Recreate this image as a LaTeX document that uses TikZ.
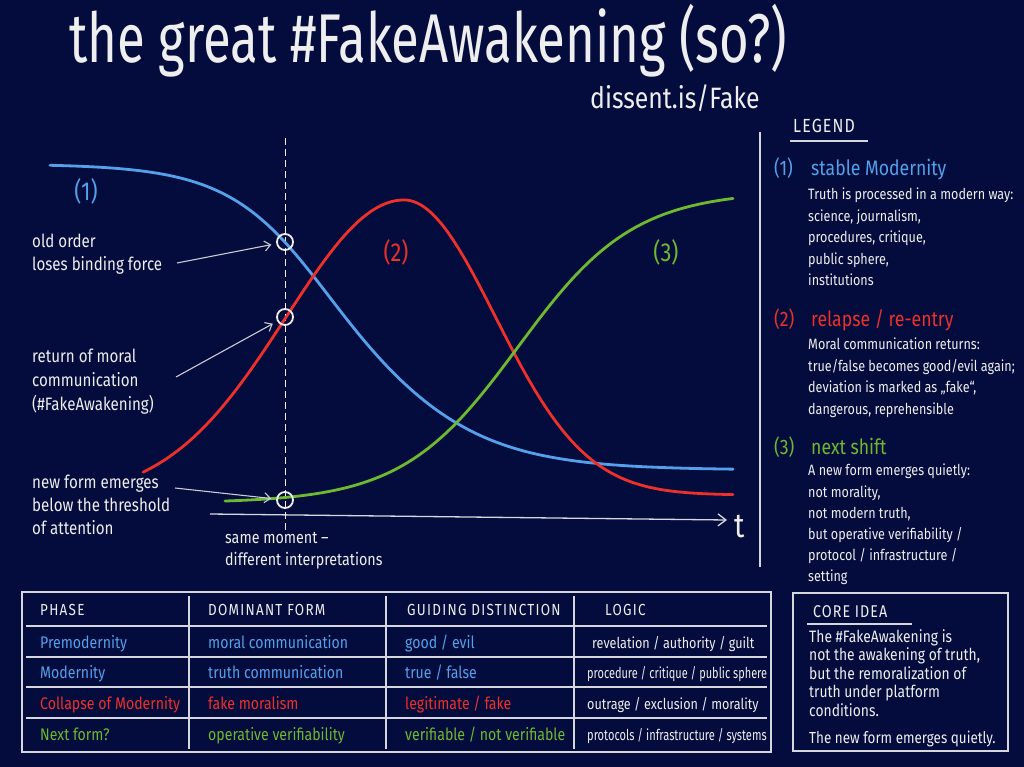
\documentclass[tikz,border=0pt]{standalone}
\usepackage{fontspec}
\setmainfont{Fira Sans}[FakeStretch=0.84]
\usetikzlibrary{arrows.meta}
\definecolor{bg}{RGB}{3,12,60}
\definecolor{cblue}{RGB}{85,160,235}
\definecolor{cred}{RGB}{238,48,42}
\definecolor{cgreen}{RGB}{110,185,50}
\definecolor{chalk}{RGB}{238,238,238}
\tikzset{
  every node/.style={inner sep=0pt, text=chalk},
  lbl/.style={anchor=north west, align=left, font=\fontsize{18}{23}\selectfont},
  lbody/.style={anchor=north west, align=left, font=\fontsize{15}{21.5}\selectfont},
  hdg/.style={anchor=base west, font=\fontsize{21}{21}\selectfont},
  tcell/.style={anchor=base west, font=\fontsize{16.8}{16.8}\selectfont},
  tlogic/.style={anchor=base west, font=\fontsize{15}{15}\selectfont},
  colhead/.style={anchor=base west, font=\fontsize{16}{16}\selectfont\addfontfeatures{LetterSpace=8}},
  trend/.style={line width=2.8pt, line cap=round},
  ring/.style={circle, draw=chalk, line width=1.8pt, minimum size=16pt},
  pointer/.style={draw=chalk!85!bg, line width=1.1pt, -{Straight Barb[length=6pt,width=10pt]}, shorten >=5pt},
  tline/.style={draw=chalk!90!bg, line width=1.3pt},
  curvelbl/.style={font=\fontsize{26}{26}\selectfont},
}
\begin{document}
\begin{tikzpicture}[x=1pt,y=-1pt]
\fill[bg] (0,0) rectangle (1024,767);
\useasboundingbox (0,0) rectangle (1024,767);

% title
\node[anchor=base west, font=\fontsize{60}{60}\selectfont, yscale=1.15, xscale=1.01, transform shape] (title) at (69,63) {the great \#FakeAwakening (so?)};
\node[anchor=base west, font=\fontsize{29.5}{29.5}\selectfont] (url) at (590,109) {dissent.is/Fake};

% chart
\draw[dashed, dash pattern=on 7pt off 4pt, chalk, line width=1pt] (285,138) -- (285,530);
\draw[trend, cblue] plot[domain=50:733, samples=160, smooth] (\x, {164 + 306/(1+exp(-(\x-345)/(60+6*tanh((\x-345)/80))))});
\draw[trend, cred] plot[domain=143:733, samples=160, smooth] (\x, {\x<404 ? 498-298*exp(-0.5*((\x-404)/118)*((\x-404)/118)) : 495-295*exp(-0.5*((\x-404)/91)*((\x-404)/91))});
\draw[trend, cgreen] plot[domain=225:733, samples=140, smooth] (\x, {503 - 312/(1+exp(-(\x-518)/58))});

\coordinate (ax0) at (210,514);
\coordinate (ax1) at (727,520);
\draw[chalk!90!bg, line width=1.3pt, -{Straight Barb[length=8pt,width=12pt]}] (ax0) -- (ax1);
\node[anchor=base west, font=\fontsize{34}{34}\selectfont] (t) at (734,537) {t};

\node[ring] (c1) at (285,242) {};
\node[ring] (c2) at (285,317) {};
\node[ring] (c3) at (285,500) {};

\node[curvelbl, text=cblue] (l1) at (86,191) {(1)};
\node[curvelbl, text=cred] (l2) at (396,252) {(2)};
\node[curvelbl, text=cgreen] (l3) at (666,252) {(3)};

\node[lbl] (t1) at (32,234) {old order\\loses binding force};
\node[lbl, font=\fontsize{18}{24}\selectfont] (t2) at (32,349) {return of moral\\communication\\(\#FakeAwakening)};
\node[lbl] (t3) at (32,475) {new form emerges\\below the threshold\\of attention};
\node[lbl, font=\fontsize{17}{22}\selectfont] (t4) at (225,532) {same moment –\\different interpretations};

\coordinate (a1) at (177,263);
\coordinate (a2) at (176,377);
\coordinate (a3) at (175,488);
\draw[pointer] (a1) -- (c1);
\draw[pointer] (a2) -- (c2);
\draw[pointer] (a3) -- (c3);

% legend
\draw[tline] (760,132) -- (760,567);
\node[anchor=base west, font=\fontsize{19}{19}\selectfont\addfontfeatures{LetterSpace=6}] (leg) at (793,133) {LEGEND};
\draw[tline] (790,141) -- (868,141);

\node[hdg, text=cblue] (h1n) at (774,176) {(1)};
\node[hdg, text=cblue] (h1) at (811,176) {stable Modernity};
\node[lbody] (b1) at (808,188) {Truth is processed in a modern way:\\science, journalism,\\procedures, critique,\\public sphere,\\institutions};

\node[hdg, text=cred] (h2n) at (774,326) {(2)};
\node[hdg, text=cred] (h2) at (811,326) {relapse / re-entry};
\node[lbody] (b2) at (808,338) {Moral communication returns:\\true/false becomes good/evil again;\\deviation is marked as „fake“,\\dangerous, reprehensible};

\node[hdg, text=cgreen] (h3n) at (774,454) {(3)};
\node[hdg, text=cgreen] (h3) at (811,454) {next shift};
\node[lbody, font=\fontsize{15}{21.1}\selectfont] (b3) at (808,464) {A new form emerges quietly:\\not morality,\\not modern truth,\\but operative verifiability /\\protocol / infrastructure /\\setting};

% table
\draw[tline] (22,592) rectangle (771,752);
\foreach \xx in {189,386,574} \draw[tline] (\xx,596) -- (\xx,749);
\foreach \yy in {626,657,687,718} \draw[tline] (26,\yy) -- (767,\yy);

\node[colhead] (p0) at (40,615) {PHASE};
\node[colhead] (d0) at (208,615) {DOMINANT FORM};
\node[colhead] (g0) at (407,615) {GUIDING DISTINCTION};
\node[colhead] (o0) at (605,615) {LOGIC};

\node[tcell, text=cblue] (p1) at (40,648) {Premodernity};
\node[tcell, text=cblue] (d1) at (208,648) {moral communication};
\node[tcell, text=cblue] (g1) at (405,648) {good / evil};
\node[tlogic] (o1) at (592,648) {revelation / authority / guilt};

\node[tcell, text=cblue] (p2) at (40,678) {Modernity};
\node[tcell, text=cblue] (d2) at (208,678) {truth communication};
\node[tcell, text=cblue] (g2) at (405,678) {true / false};
\node[tlogic, xscale=0.87, transform shape] (o2) at (587,678) {procedure / critique / public sphere};

\node[tcell, text=cred] (p3) at (40,709) {Collapse of Modernity};
\node[tcell, text=cred] (d3) at (208,709) {fake moralism};
\node[tcell, text=cred] (g3) at (405,709) {legitimate / fake};
\node[tlogic] (o3) at (587,709) {outrage / exclusion / morality};

\node[tcell, text=cgreen] (p4) at (40,740) {Next form?};
\node[tcell, text=cgreen] (d4) at (208,740) {operative verifiability};
\node[tcell, text=cgreen] (g4) at (405,740) {verifiable / not verifiable};
\node[tlogic, xscale=0.88, transform shape] (o4) at (587,740) {protocols / infrastructure / systems};

% core idea
\draw[tline] (793,593) rectangle (1008,751);
\node[anchor=base west, font=\fontsize{17}{17}\selectfont\addfontfeatures{LetterSpace=6}] (core) at (813,617) {CORE IDEA};
\draw[tline] (807,624) -- (912,624);
\node[lbody, font=\fontsize{16.5}{18.6}\selectfont] (cb) at (809,629) {The \#FakeAwakening is\\not the awakening of truth,\\but the remoralization of\\truth under platform\\conditions.};
\node[anchor=base west, font=\fontsize{16}{16}\selectfont] (cq) at (809,743) {The new form emerges quietly.};
\end{tikzpicture}
\end{document}
